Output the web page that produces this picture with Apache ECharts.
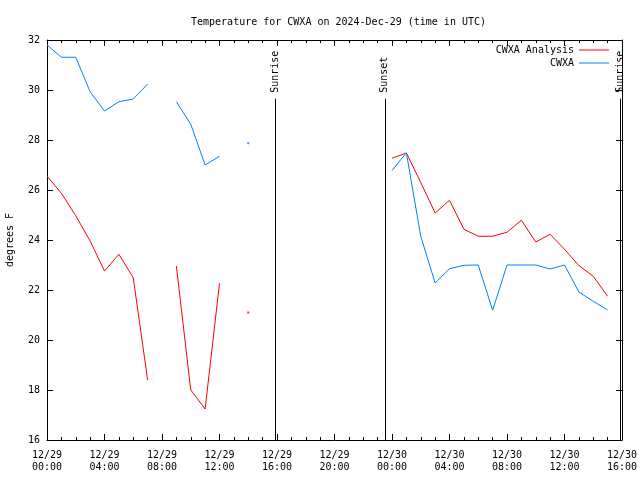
<!DOCTYPE html>
<html><head><meta charset="utf-8">
<script src="https://cdn.jsdelivr.net/npm/echarts@6/dist/echarts.min.js"></script>
<style>html,body{margin:0;padding:0;background:#fff}#c{width:640px;height:480px}</style>
</head><body><div id="c"></div>
<script>
// hours since 2024-12-29 00:00 UTC
const hours = [0,1,2,3,4,5,6,7,8,9,10,11,12,13,14,15,16,17,18,19,20,21,22,23,24,25,26,27,28,29,30,31,32,33,34,35,36,37,38,39];
const analysis = [26.56,25.87,24.97,23.96,22.76,23.43,22.49,18.4,null,22.96,18.0,17.24,22.27,null,21.1,
  null,null,null,null,null,null,null,null,null,
  27.27,27.48,26.3,25.08,25.59,24.43,24.15,24.15,24.31,24.79,23.92,24.23,23.63,22.98,22.55,21.75];
const cwxa = [31.8,31.31,31.31,29.93,29.16,29.53,29.64,30.24,null,29.53,28.63,27.0,27.35,null,27.87,
  null,null,null,null,null,null,null,null,null,
  26.78,27.49,24.15,22.28,22.85,22.99,23.0,21.19,23.0,23.0,23.0,22.84,23.0,21.92,21.55,21.2];
const sunEvents = [{name:'Sunrise',hour:15.87},{name:'Sunset',hour:23.5},{name:'Sunrise',hour:39.87}];
const dayLabels = ['12/29','12/30'];
const xMin = 0, xMax = 40, xStep = 4, yMin = 16, yMax = 32, yStep = 2;
const sunLineTop = 29.65;

const FONT = 'DejaVu Sans Mono';
const RED = '#ff0000', BLUE = '#0080ff';

function pairs(arr){ return hours.map((h,i)=>[h, arr[i]]); }
function isolated(arr){
  const out=[];
  arr.forEach((v,i)=>{ if(v!=null && (i===0||arr[i-1]==null) && (i===arr.length-1||arr[i+1]==null)) out.push([hours[i],v]); });
  return out;
}
function pad(n){ return (n<10?'0':'')+n; }

const chart = echarts.init(document.getElementById('c'), null, {renderer:'canvas'});
const axCommon = {
  type:'value',
  axisLine:{show:true,onZero:false,lineStyle:{color:'#000',width:1}},
  splitLine:{show:false}
};
const legendCommon = {right:26, align:'right', icon:'rect', itemWidth:30, itemHeight:1, itemGap:5,
  textStyle:{fontFamily:FONT,fontSize:10,color:'#000'}};
const option = {
  animation:false,
  backgroundColor:'#fff',
  title:{text:'Temperature for CWXA on 2024-Dec-29 (time in UTC)', left:186, top:12,
    textStyle:{fontFamily:FONT,fontSize:10,fontWeight:'normal',color:'#000'}},
  legend:[
    Object.assign({data:['CWXA Analysis'], top:40}, legendCommon),
    Object.assign({data:['CWXA'], top:53}, legendCommon)
  ],
  grid:{left:47,right:18,top:40,bottom:40,containLabel:false,outerBoundsMode:'none'},
  xAxis:[
    Object.assign({}, axCommon, {min:xMin,max:xMax,interval:xStep,position:'bottom',
      axisTick:{show:true,inside:true,length:6,lineStyle:{color:'#000'}},
      minorTick:{show:true,splitNumber:4,length:3,lineStyle:{color:'#000'}},
      axisLabel:{show:true,margin:9,fontFamily:FONT,fontSize:10,color:'#000',lineHeight:12,
        formatter:v=>dayLabels[Math.min(1,Math.floor(v/24))]+'\n'+pad(v%24)+':00'}}),
    Object.assign({}, axCommon, {min:xMin,max:xMax,interval:xStep,position:'top',
      axisTick:{show:true,inside:true,length:6,lineStyle:{color:'#000'}},
      minorTick:{show:true,splitNumber:4,length:3,lineStyle:{color:'#000'}},
      axisLabel:{show:false}})
  ],
  yAxis:[
    Object.assign({}, axCommon, {min:yMin,max:yMax,interval:yStep,position:'left',
      name:'degrees F',nameLocation:'middle',nameGap:32,nameRotate:90,
      nameTextStyle:{fontFamily:FONT,fontSize:10,color:'#000'},
      axisTick:{show:true,inside:true,length:6,lineStyle:{color:'#000'}},
      axisLabel:{show:true,margin:7,fontFamily:FONT,fontSize:10,color:'#000'}}),
    Object.assign({}, axCommon, {min:yMin,max:yMax,interval:yStep,position:'right',
      axisTick:{show:true,inside:true,length:6,lineStyle:{color:'#000'}},
      axisLabel:{show:false}})
  ],
  series:[
    {name:'CWXA Analysis',type:'line',data:pairs(analysis),symbol:'none',connectNulls:false,
     color:RED,lineStyle:{width:1,color:RED},
     markLine:{silent:true,symbol:['none','none'],animation:false,
       label:{show:false},lineStyle:{color:'#000',width:1,type:'solid'},
       data:sunEvents.map(e=>[{coord:[e.hour,sunLineTop]},{coord:[e.hour,yMin]}])}},
    {name:'CWXA',type:'line',data:pairs(cwxa),symbol:'none',connectNulls:false,
     color:BLUE,lineStyle:{width:1,color:BLUE}},
    {type:'scatter',data:isolated(analysis),symbol:'rect',symbolSize:2,itemStyle:{color:RED}},
    {type:'scatter',data:isolated(cwxa),symbol:'rect',symbolSize:2,itemStyle:{color:BLUE}}
  ]
};
chart.setOption(option);
const yTop = chart.convertToPixel({yAxisIndex:0}, sunLineTop);
chart.setOption({graphic:sunEvents.map(e=>({
  type:'text',
  x:chart.convertToPixel({xAxisIndex:0}, e.hour),
  y:yTop-6,
  rotation:Math.PI/2,
  style:{text:e.name,fontFamily:FONT,fontSize:10,fill:'#000',align:'left',verticalAlign:'middle'}
}))});
</script></body></html>
